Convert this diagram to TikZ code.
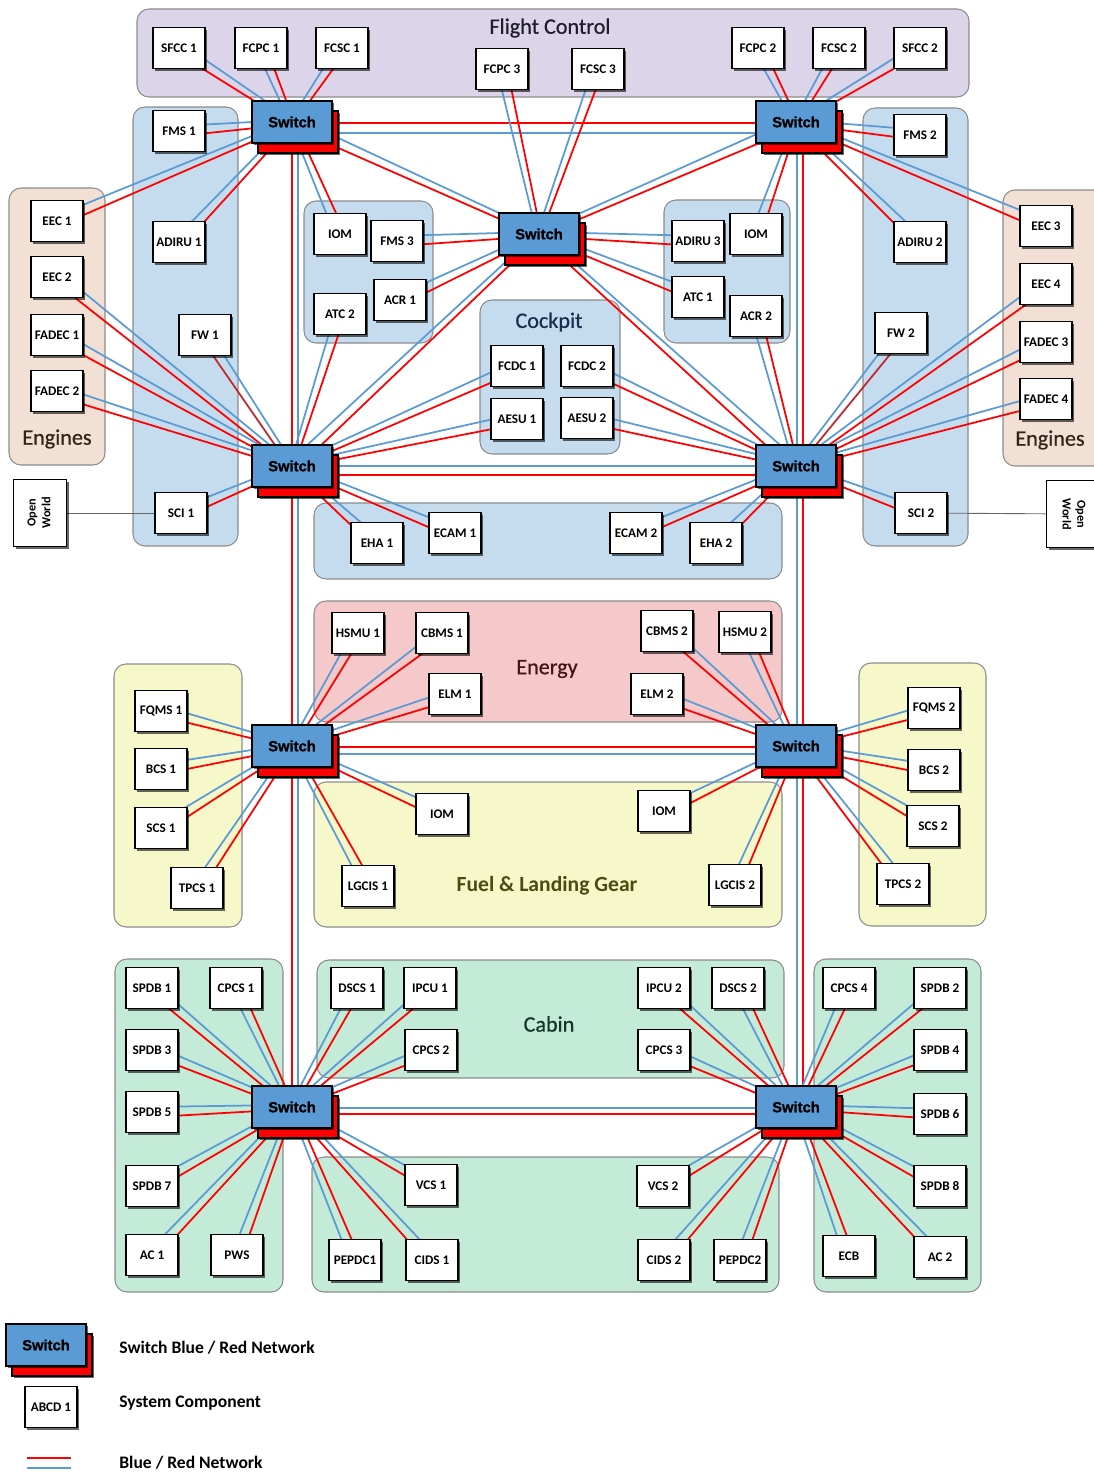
\documentclass[tikz,border=0pt]{standalone}
\usepackage{fontspec}
\setmainfont{Carlito}
\newfontfamily\swfont{Liberation Sans}[BoldFeatures={FakeBold=1.2}]
\newfontfamily\ttlfont{Carlito}[FakeBold=0.6]
\usetikzlibrary{calc,shadows}

\definecolor{swblue}{HTML}{5B9BD5}
\definecolor{lnblue}{HTML}{5B9BD5}
\definecolor{lnred}{HTML}{FF0000}
\definecolor{fwred}{HTML}{C0282E}
\definecolor{gblue}{HTML}{C5DCEE}
\definecolor{gpurple}{HTML}{DCD4E8}
\definecolor{gpeach}{HTML}{F3E0D4}
\definecolor{gpink}{HTML}{F5C9C9}
\definecolor{gyellow}{HTML}{F7F8CA}
\definecolor{ggreen}{HTML}{C4EAD8}
\definecolor{tfc}{HTML}{1E1E2E}
\definecolor{tcock}{HTML}{172F4C}
\definecolor{teng}{HTML}{33241A}
\definecolor{tenergy}{HTML}{421616}
\definecolor{tfuel}{HTML}{4A4D12}
\definecolor{tcabin}{HTML}{15352C}

\pgfdeclarelayer{groups}
\pgfdeclarelayer{links}
\pgfsetlayers{groups,links,main}

\tikzset{
  shade box/.style={drop shadow={shadow xshift=1.3pt, shadow yshift=-1.3pt, opacity=0.6, fill=black}},
  comp/.style={draw=black, line width=0.9pt, fill=white, inner sep=0pt,
    minimum width=52*0.02cm, minimum height=41*0.02cm,
    font=\bfseries\fontsize{7.5}{8}\selectfont, shade box},
  sw/.style={draw=black, line width=0.9pt, fill=swblue, inner sep=0pt,
    minimum width=80*0.02cm, minimum height=42*0.02cm,
    font=\swfont\bfseries\fontsize{8.4}{9}\selectfont, shade box},
  swback/.style={sw, fill=lnred},
  grp/.style={draw=black!45, line width=0.6pt, rounded corners=2.4mm},
  ttl/.style={font=\ttlfont\fontsize{12.6}{14}\selectfont, inner sep=0pt},
  rl/.style={lnred, line width=1pt},
  bl/.style={lnblue, line width=1pt},
  lgd/.style={anchor=west, inner sep=0pt, font=\bfseries\fontsize{10}{12}\selectfont},
}

% switch: red back plate plus blue front plate
\newcommand\swnode[2]{%
  \node[swback] (#1r) at ($(#2)+(6,10)$) {};
  \node[sw] (#1) at (#2) {Switch};
}

% red/blue link pair from a component to a switch
\newcommand\lnk[3][lnred]{%
  \pgfpointanchor{#2}{center}\pgfgetlastxy\lax\lay
  \pgfpointanchor{#3}{center}\pgfgetlastxy\lbx\lby
  \pgfmathsetmacro\lsg{((-6)*(\lby-\lay)-10*(\lbx-\lax))>0 ? 1 : -1}
  \pgfmathsetmacro\lda{\lsg*2.9}
  \pgfmathsetmacro\ldb{(-1)*\lsg*2.9}
  \pgfmathsetmacro\lea{\lsg*1.2}
  \pgfmathsetmacro\leb{(-1)*\lsg*1.2}
  \draw[#1, line width=1pt] ($(#2)!\lda pt!90:(#3)$) -- ($(#3)!\lea pt!-90:(#2)$);
  \draw[bl] ($(#2)!\ldb pt!90:(#3)$) -- ($(#3)!\leb pt!-90:(#2)$);
}

\begin{document}
\begin{tikzpicture}[x=0.02cm, y=-0.02cm]
\useasboundingbox (0,0) rectangle (1094,1473);

% ---------- group panels ----------
\begin{pgfonlayer}{groups}
  \draw[grp, fill=gpurple] (137,9) rectangle (969,97);
  \draw[grp, fill=gblue] (133,107) rectangle (238,546);
  \draw[grp, fill=gblue] (863,108) rectangle (968,546);
  \draw[grp, fill=gpeach] (9,188) rectangle (105,465);
  \draw[grp, fill=gpeach] (1003,190) rectangle (1112,466);
  \draw[grp, fill=gblue] (304,201) rectangle (433,343);
  \draw[grp, fill=gblue] (664,200) rectangle (790,343);
  \draw[grp, fill=gblue] (480,300) rectangle (620,454);
  \draw[grp, fill=gblue] (314,503) rectangle (782,579);
  \draw[grp, fill=gpink] (314,601) rectangle (782,722);
  \draw[grp, fill=gyellow] (114,664) rectangle (242,927);
  \draw[grp, fill=gyellow] (859,663) rectangle (986,926);
  \draw[grp, fill=gyellow] (314,782) rectangle (782,927);
  \draw[grp, fill=ggreen] (115,959) rectangle (283,1292);
  \draw[grp, fill=ggreen] (317,960) rectangle (784,1078);
  \draw[grp, fill=ggreen] (312,1157) rectangle (779,1292);
  \draw[grp, fill=ggreen] (814,959) rectangle (981,1292);
\end{pgfonlayer}

% ---------- group titles ----------
\node[ttl, text=tfc] (tFC) at (550,28) {Flight Control};
\node[ttl, text=tcock] (tCP) at (549,322) {Cockpit};
\node[ttl, text=teng] (tENa) at (57,439) {Engines};
\node[ttl, text=teng] (tENb) at (1050,440) {Engines};
\node[ttl, text=tenergy] (tEN) at (547,669) {Energy};
\node[ttl, text=tfuel, font=\bfseries\fontsize{12.3}{14}\selectfont] (tFU) at (547,886) {Fuel \& Landing Gear};
\node[ttl, text=tcabin] (tCA) at (549,1024) {Cabin};

% ---------- switches ----------
\swnode{Sa}{292,122}
\swnode{Sb}{796,122}
\swnode{Sc}{539,234}
\swnode{Sd}{292,466}
\swnode{Se}{796,466}
\swnode{Sf}{292,746}
\swnode{Sg}{796,746}
\swnode{Sh}{292,1107}
\swnode{Si}{796,1107}

% ---------- flight control ----------
\node[comp] (SFCCa) at (179,48) {SFCC 1};
\node[comp] (FCPCa) at (261,48) {FCPC 1};
\node[comp] (FCSCa) at (342,48) {FCSC 1};
\node[comp] (FCPCc) at (502,69) {FCPC 3};
\node[comp] (FCSCc) at (598,69) {FCSC 3};
\node[comp] (FCPCb) at (758,48) {FCPC 2};
\node[comp] (FCSCb) at (839,48) {FCSC 2};
\node[comp] (SFCCb) at (920,48) {SFCC 2};

% ---------- side columns and engines ----------
\node[comp] (FMSa) at (179,131) {FMS 1};
\node[comp] (ADIRUa) at (179,242) {ADIRU 1};
\node[comp] (FWa) at (205,335) {FW 1};
\node[comp] (SCIa) at (181,513) {SCI 1};
\node[comp] (EECa) at (57,221) {EEC 1};
\node[comp] (EECb) at (57,277) {EEC 2};
\node[comp] (FADECa) at (57,335) {FADEC 1};
\node[comp] (FADECb) at (57,391) {FADEC 2};
\node[comp] (FMSb) at (920,135) {FMS 2};
\node[comp] (ADIRUb) at (920,242) {ADIRU 2};
\node[comp] (FWb) at (901,333) {FW 2};
\node[comp] (SCIb) at (921,513) {SCI 2};
\node[comp] (EECc) at (1046,226) {EEC 3};
\node[comp] (EECd) at (1046,284) {EEC 4};
\node[comp] (FADECc) at (1046,342) {FADEC 3};
\node[comp] (FADECd) at (1046,399) {FADEC 4};
\node[comp, minimum width=53*0.02cm, minimum height=67*0.02cm,
  font=\bfseries\fontsize{7}{8.5}\selectfont] (OWa) at (40,513)
  {\rotatebox{90}{\begin{tabular}{@{}c@{}}Open\\World\end{tabular}}};
\node[comp, minimum width=53*0.02cm, minimum height=67*0.02cm,
  font=\bfseries\fontsize{7}{8.5}\selectfont] (OWb) at (1073,514)
  {\rotatebox{-90}{\begin{tabular}{@{}c@{}}Open\\World\end{tabular}}};

% ---------- avionics clusters and cockpit ----------
\node[comp] (IOMa) at (340,234) {IOM};
\node[comp] (FMSc) at (397,241) {FMS 3};
\node[comp] (ACRa) at (400,300) {ACR 1};
\node[comp] (ATCb) at (340,314) {ATC 2};
\node[comp] (ADIRUc) at (698,241) {ADIRU 3};
\node[comp] (IOMb) at (756,234) {IOM};
\node[comp] (ATCa) at (698,297) {ATC 1};
\node[comp] (ACRb) at (756,316) {ACR 2};
\node[comp] (FCDCa) at (517,366) {FCDC 1};
\node[comp] (FCDCb) at (587,366) {FCDC 2};
\node[comp] (AESUa) at (517,419) {AESU 1};
\node[comp] (AESUb) at (587,418) {AESU 2};
\node[comp] (EHAa) at (377,543) {EHA 1};
\node[comp] (ECAMa) at (455,533) {ECAM 1};
\node[comp] (ECAMb) at (636,533) {ECAM 2};
\node[comp] (EHAb) at (716,543) {EHA 2};

% ---------- energy ----------
\node[comp] (HSMUa) at (358,633) {HSMU 1};
\node[comp] (CBMSa) at (442,633) {CBMS 1};
\node[comp] (ELMa) at (455,694) {ELM 1};
\node[comp] (CBMSb) at (667,631) {CBMS 2};
\node[comp] (HSMUb) at (745,632) {HSMU 2};
\node[comp] (ELMb) at (657,694) {ELM 2};

% ---------- fuel & landing gear ----------
\node[comp] (FQMSa) at (161,711) {FQMS 1};
\node[comp] (BCSa) at (161,769) {BCS 1};
\node[comp] (SCSa) at (161,828) {SCS 1};
\node[comp] (TPCSa) at (197,888) {TPCS 1};
\node[comp] (FQMSb) at (934,708) {FQMS 2};
\node[comp] (BCSb) at (934,770) {BCS 2};
\node[comp] (SCSb) at (933,826) {SCS 2};
\node[comp] (TPCSb) at (903,884) {TPCS 2};
\node[comp] (IOMc) at (442,814) {IOM};
\node[comp] (LGCISa) at (368,886) {LGCIS 1};
\node[comp] (IOMd) at (664,811) {IOM};
\node[comp] (LGCISb) at (735,885) {LGCIS 2};

% ---------- cabin ----------
\node[comp] (SPDBa) at (152,988) {SPDB 1};
\node[comp] (CPCSa) at (236,988) {CPCS 1};
\node[comp] (SPDBc) at (152,1050) {SPDB 3};
\node[comp] (SPDBe) at (152,1112) {SPDB 5};
\node[comp] (SPDBg) at (152,1186) {SPDB 7};
\node[comp] (ACa) at (152,1255) {AC 1};
\node[comp] (PWS) at (237,1255) {PWS};
\node[comp] (DSCSa) at (357,988) {DSCS 1};
\node[comp] (IPCUa) at (430,988) {IPCU 1};
\node[comp] (CPCSb) at (431,1050) {CPCS 2};
\node[comp] (VCSa) at (431,1185) {VCS 1};
\node[comp] (PEPDCa) at (355,1260) {PEPDC1};
\node[comp] (CIDSa) at (432,1260) {CIDS 1};
\node[comp] (IPCUb) at (664,988) {IPCU 2};
\node[comp] (DSCSb) at (738,988) {DSCS 2};
\node[comp] (CPCSc) at (664,1050) {CPCS 3};
\node[comp] (VCSb) at (663,1186) {VCS 2};
\node[comp] (CIDSb) at (664,1260) {CIDS 2};
\node[comp] (PEPDCb) at (740,1260) {PEPDC2};
\node[comp] (CPCSd) at (849,988) {CPCS 4};
\node[comp] (SPDBb) at (940,988) {SPDB 2};
\node[comp] (SPDBd) at (940,1050) {SPDB 4};
\node[comp] (SPDBf) at (940,1114) {SPDB 6};
\node[comp] (SPDBh) at (940,1186) {SPDB 8};
\node[comp] (ECB) at (849,1256) {ECB};
\node[comp] (ACb) at (940,1257) {AC 2};

% ---------- legend ----------
\swnode{Lsw}{46,1345}
\node[comp] (Lcomp) at (51,1407) {ABCD 1};
\coordinate (Lra) at (27,1458);
\coordinate (Lrb) at (71,1458);
\coordinate (Lba) at (27,1468);
\coordinate (Lbb) at (71,1468);
\draw[rl] (Lra) -- (Lrb);
\draw[bl] (Lba) -- (Lbb);
\node[lgd] (Lt1) at (119,1348) {Switch Blue / Red Network};
\node[lgd] (Lt2) at (119,1403) {System Component};
\node[lgd] (Lt3) at (119,1463) {Blue / Red Network};

% ---------- network links ----------
\begin{pgfonlayer}{links}
  % backbone between switches
  \draw[rl] ($(Sa)+(0,1)$) -- ($(Sb)+(0,1)$);
  \draw[bl] ($(Sa)+(0,11)$) -- ($(Sb)+(0,11)$);
  \draw[bl] ($(Sd)+(0,0)$) -- ($(Se)+(0,0)$);
  \draw[rl] ($(Sd)+(0,9)$) -- ($(Se)+(0,9)$);
  \draw[rl] ($(Sf)+(0,1)$) -- ($(Sg)+(0,1)$);
  \draw[bl] ($(Sf)+(0,8)$) -- ($(Sg)+(0,8)$);
  \draw[bl] ($(Sh)+(0,1)$) -- ($(Si)+(0,1)$);
  \draw[rl] ($(Sh)+(0,7)$) -- ($(Si)+(0,7)$);
  \draw[rl] ($(Sa)+(0,0)$) -- ($(Sh)+(0,0)$);
  \draw[bl] ($(Sa)+(6,0)$) -- ($(Sh)+(6,0)$);
  \draw[bl] ($(Sb)+(1,0)$) -- ($(Si)+(1,0)$);
  \draw[rl] ($(Sb)+(7,0)$) -- ($(Si)+(7,0)$);
  \lnk{Sa}{Sc}
  \lnk{Sb}{Sc}
  \lnk{Sd}{Sc}
  \lnk{Se}{Sc}
  % open world gateways
  \draw[black!60, line width=0.5pt] (OWa) -- (SCIa);
  \draw[black!60, line width=0.5pt] (OWb) -- (SCIb);
  % top-left switch
  \lnk{SFCCa}{Sa} \lnk{FCPCa}{Sa} \lnk{FCSCa}{Sa} \lnk{FMSa}{Sa}
  \lnk{ADIRUa}{Sa} \lnk{EECa}{Sa} \lnk{IOMa}{Sa}
  % top-right switch
  \lnk{FCPCb}{Sb} \lnk{FCSCb}{Sb} \lnk{SFCCb}{Sb} \lnk{FMSb}{Sb}
  \lnk{ADIRUb}{Sb} \lnk{EECc}{Sb} \lnk{IOMb}{Sb}
  % central switch
  \lnk{FCPCc}{Sc} \lnk{FCSCc}{Sc} \lnk{FMSc}{Sc} \lnk{ACRa}{Sc}
  \lnk{ADIRUc}{Sc} \lnk{ATCa}{Sc}
  % middle-left switch
  \lnk{EECb}{Sd} \lnk{FADECa}{Sd} \lnk{FADECb}{Sd} \lnk[fwred]{FWa}{Sd}
  \lnk{SCIa}{Sd} \lnk{ATCb}{Sd} \lnk{FCDCa}{Sd} \lnk{AESUa}{Sd}
  \lnk{EHAa}{Sd} \lnk{ECAMa}{Sd}
  % middle-right switch
  \lnk{EECd}{Se} \lnk{FADECc}{Se} \lnk{FADECd}{Se} \lnk[fwred]{FWb}{Se}
  \lnk{SCIb}{Se} \lnk{ACRb}{Se} \lnk{FCDCb}{Se} \lnk{AESUb}{Se}
  \lnk{EHAb}{Se} \lnk{ECAMb}{Se}
  % energy / fuel left
  \lnk{HSMUa}{Sf} \lnk{CBMSa}{Sf} \lnk{ELMa}{Sf} \lnk{FQMSa}{Sf}
  \lnk{BCSa}{Sf} \lnk{SCSa}{Sf} \lnk{TPCSa}{Sf} \lnk{IOMc}{Sf} \lnk{LGCISa}{Sf}
  % energy / fuel right
  \lnk{CBMSb}{Sg} \lnk{HSMUb}{Sg} \lnk{ELMb}{Sg} \lnk{FQMSb}{Sg}
  \lnk{BCSb}{Sg} \lnk{SCSb}{Sg} \lnk{TPCSb}{Sg} \lnk{IOMd}{Sg} \lnk{LGCISb}{Sg}
  % cabin left
  \lnk{SPDBa}{Sh} \lnk{CPCSa}{Sh} \lnk{SPDBc}{Sh} \lnk{SPDBe}{Sh}
  \lnk{SPDBg}{Sh} \lnk{ACa}{Sh} \lnk{PWS}{Sh} \lnk{DSCSa}{Sh}
  \lnk{IPCUa}{Sh} \lnk{CPCSb}{Sh} \lnk{VCSa}{Sh} \lnk{PEPDCa}{Sh} \lnk{CIDSa}{Sh}
  % cabin right
  \lnk{IPCUb}{Si} \lnk{DSCSb}{Si} \lnk{CPCSc}{Si} \lnk{CPCSd}{Si}
  \lnk{SPDBb}{Si} \lnk{SPDBd}{Si} \lnk{SPDBf}{Si} \lnk{SPDBh}{Si}
  \lnk{ECB}{Si} \lnk{ACb}{Si} \lnk{VCSb}{Si} \lnk{CIDSb}{Si} \lnk{PEPDCb}{Si}
\end{pgfonlayer}
\end{tikzpicture}
\end{document}
